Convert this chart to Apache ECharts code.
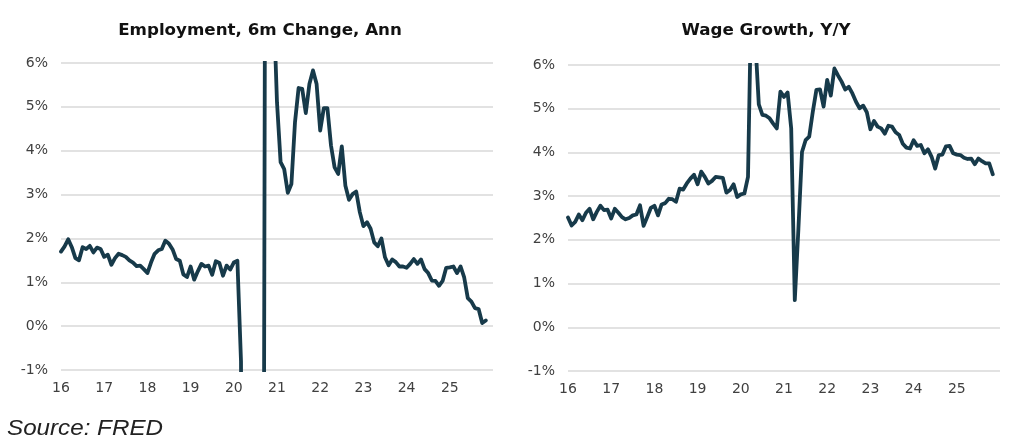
<!DOCTYPE html>
<html>
<head>
<meta charset="utf-8">
<script src="https://cdn.jsdelivr.net/npm/echarts@6/dist/echarts.min.js"></script>
<style>
html,body{margin:0;padding:0;background:#fff;}
#c{width:1024px;height:448px;}
</style>
</head>
<body>
<div id="c"></div>
<script>
// Month categories Jan 2016 .. Jan 2026
const startYear = 2016, endYear = 2026;
const months = [];
for (let y = startYear; y <= endYear; y++) {
  for (let m = 1; m <= 12; m++) {
    if (y === endYear && m > 1) break;
    months.push(y + '-' + (m < 10 ? '0' + m : m));
  }
}
const yearTickLabels = ['16','17','18','19','20','21','22','23','24','25'];
const yTicks = [-1, 0, 1, 2, 3, 4, 5, 6];

const titleEmployment = 'Employment, 6m Change, Ann';
const titleWage = 'Wage Growth, Y/Y';
const sourceText = 'Source: FRED';

// Employment, 6-month change annualized (%), Jan 2016 .. Nov 2025
const employment = [
  1.70,1.82,1.98,1.80,1.55,1.50,1.80,1.76,1.83,1.68,
  1.79,1.76,1.58,1.63,1.40,1.55,1.65,1.62,1.58,1.50,
  1.45,1.37,1.38,1.30,1.21,1.45,1.65,1.73,1.76,1.95,
  1.88,1.75,1.53,1.49,1.18,1.12,1.36,1.06,1.25,1.42,
  1.36,1.38,1.17,1.48,1.44,1.15,1.38,1.29,1.45,1.49,
  -0.8,-28,-25,-20,-18,-17,-16,20,14,7.5,
  5.1,3.74,3.58,3.04,3.24,4.65,5.43,5.41,4.86,5.52,
  5.83,5.52,4.46,4.97,4.97,4.12,3.62,3.47,4.10,3.20,
  2.88,3.01,3.07,2.60,2.28,2.37,2.22,1.91,1.82,2.00,
  1.57,1.39,1.52,1.46,1.36,1.36,1.33,1.42,1.53,1.42,
  1.52,1.30,1.21,1.04,1.03,0.92,1.03,1.33,1.34,1.36,
  1.21,1.36,1.11,0.64,0.56,0.41,0.39,0.07,0.13
];

// Wage growth, Y/Y (%), Jan 2016 .. Nov 2025
const wage = [
  2.51,2.33,2.41,2.58,2.45,2.62,2.71,2.47,2.64,2.78,
  2.68,2.69,2.49,2.71,2.62,2.52,2.47,2.50,2.56,2.58,
  2.79,2.32,2.52,2.73,2.78,2.56,2.81,2.84,2.94,2.93,
  2.87,3.17,3.15,3.29,3.40,3.49,3.27,3.56,3.44,3.29,
  3.35,3.44,3.43,3.42,3.08,3.14,3.27,2.98,3.04,3.06,
  3.44,8.0,6.6,5.1,4.86,4.84,4.78,4.66,4.55,5.39,
  5.27,5.37,4.55,0.62,2.25,4.01,4.28,4.36,4.93,5.43,
  5.44,5.05,5.66,5.30,5.92,5.76,5.62,5.44,5.50,5.35,
  5.16,5.01,5.07,4.92,4.53,4.72,4.59,4.55,4.43,4.61,
  4.59,4.46,4.40,4.20,4.11,4.09,4.28,4.15,4.17,3.98,
  4.07,3.90,3.63,3.94,3.95,4.14,4.15,3.98,3.95,3.94,
  3.88,3.85,3.86,3.73,3.86,3.80,3.75,3.75,3.50
];

const lineColor = '#173a4a';
const labelColor = '#404040';
const gridColor = '#d9d9d9';
const fontFam = '"DejaVu Sans", Verdana, sans-serif';

function makeX(gi) {
  return {
    type: 'category', gridIndex: gi, data: months, boundaryGap: false,
    axisLine: { show: false }, axisTick: { show: false },
    splitLine: { show: false },
    axisLabel: {
      interval: function (idx) { return idx % 12 === 0 && idx / 12 < yearTickLabels.length; },
      formatter: function (v, idx) { return yearTickLabels[Math.floor(idx / 12)] || ''; },
      color: labelColor, fontSize: 14, fontFamily: fontFam, margin: 11
    }
  };
}
function makeY(gi) {
  return {
    type: 'value', gridIndex: gi, min: yTicks[0], max: yTicks[yTicks.length - 1], interval: 1,
    axisLine: { show: false }, axisTick: { show: false },
    splitLine: { lineStyle: { color: gridColor, width: 1.5 } },
    axisLabel: { formatter: '{value}%', color: labelColor, fontSize: 14, fontFamily: fontFam, margin: 13 }
  };
}

const chart = echarts.init(document.getElementById('c'), null, { renderer: 'canvas' });
chart.setOption({
  animation: false,
  backgroundColor: '#fff',
  grid: [
    { left: 61, right: 531, top: 63, bottom: 78 },
    { left: 568, right: 24, top: 65, bottom: 77 }
  ],
  xAxis: [makeX(0), makeX(1)],
  yAxis: [makeY(0), makeY(1)],
  series: [
    { type: 'line', xAxisIndex: 0, yAxisIndex: 0, data: employment, showSymbol: false, clip: true,
      lineStyle: { color: lineColor, width: 3.8, join: 'round', cap: 'round' } },
    { type: 'line', xAxisIndex: 1, yAxisIndex: 1, data: wage, showSymbol: false, clip: true,
      lineStyle: { color: lineColor, width: 3.8, join: 'round', cap: 'round' } }
  ],
  graphic: [
    { type: 'text', x: 260, y: 31,
      style: { text: titleEmployment, font: 'bold 16.7px ' + fontFam, fill: '#111',
               textAlign: 'center', align: 'center', textVerticalAlign: 'middle', verticalAlign: 'middle' } },
    { type: 'text', x: 766, y: 31,
      style: { text: titleWage, font: 'bold 16.7px ' + fontFam, fill: '#111',
               textAlign: 'center', align: 'center', textVerticalAlign: 'middle', verticalAlign: 'middle' } },
    { type: 'text', x: 7, y: 429, scaleX: 1.1,
      style: { text: sourceText, font: 'italic 22px "Liberation Sans", Arial, sans-serif', fill: '#222',
               textAlign: 'left', align: 'left', textVerticalAlign: 'middle', verticalAlign: 'middle' } }
  ]
});
</script>
</body>
</html>
